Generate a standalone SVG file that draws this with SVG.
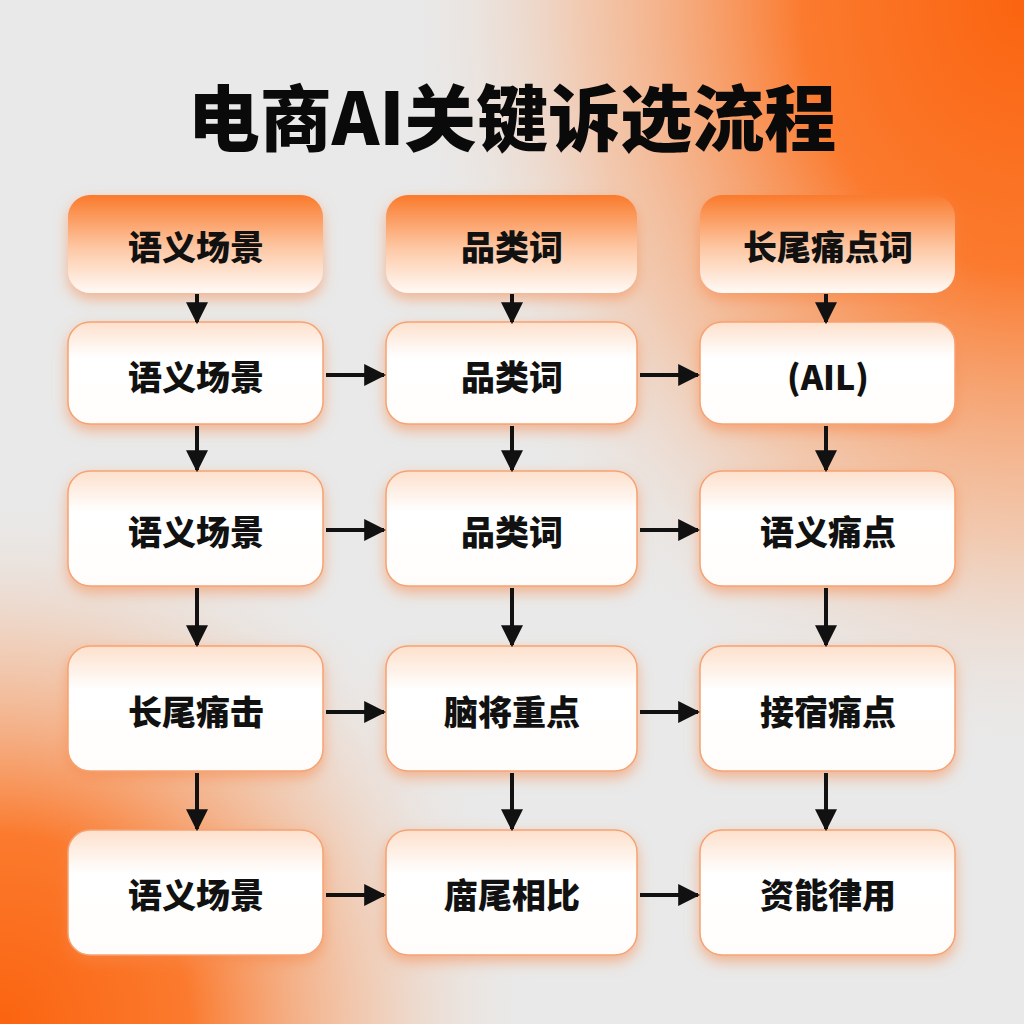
<svg xmlns="http://www.w3.org/2000/svg" width="1024" height="1024" viewBox="0 0 1024 1024">
<defs>
<radialGradient id="bgTR" cx="1024" cy="0" r="700" gradientUnits="userSpaceOnUse" gradientTransform="translate(1024 0) scale(0.9 1.1) translate(-1024 0)">
<stop offset="0" stop-color="#fb6410"/>
<stop offset="0.35" stop-color="#fb7a2e"/>
<stop offset="0.7" stop-color="#f7b48a" stop-opacity="0.6"/>
<stop offset="1" stop-color="#e9e9e9" stop-opacity="0"/>
</radialGradient>
<radialGradient id="bgBL" cx="0" cy="1024" r="540" gradientUnits="userSpaceOnUse">
<stop offset="0" stop-color="#fb6410"/>
<stop offset="0.35" stop-color="#fb7a2e"/>
<stop offset="0.7" stop-color="#f7b48a" stop-opacity="0.5"/>
<stop offset="1" stop-color="#e9e9e9" stop-opacity="0"/>
</radialGradient>
<linearGradient id="hdr" x1="0" y1="0" x2="0" y2="1">
<stop offset="0" stop-color="#fa7a2c"/>
<stop offset="0.55" stop-color="#fdc9a6"/>
<stop offset="1" stop-color="#fffaf6"/>
</linearGradient>
<linearGradient id="box" x1="0" y1="0" x2="0" y2="1">
<stop offset="0" stop-color="#fde0cc"/>
<stop offset="0.35" stop-color="#ffffff"/>
<stop offset="1" stop-color="#fffdfb"/>
</linearGradient>
<filter id="sh" x="-20%" y="-20%" width="140%" height="150%">
<feDropShadow dx="0" dy="6" stdDeviation="7" flood-color="#f7874a" flood-opacity="0.55"/>
</filter>
<marker id="ah" viewBox="0 0 10 10" refX="9" refY="5" markerWidth="5.5" markerHeight="5.5" orient="auto" markerUnits="strokeWidth">
<path d="M0,0 L10,5 L0,10 Z" fill="#111"/>
</marker>
<style>
.hd{fill:url(#hdr);filter:url(#sh);}
.bx{fill:url(#box);stroke:#f6a373;stroke-width:1.5;filter:url(#sh);}
.t{font-family:"Noto Sans CJK SC","Noto Sans",sans-serif;font-weight:900;font-size:34px;fill:#111;text-anchor:middle;dominant-baseline:central;}
.ttl{font-family:"Noto Sans CJK SC","Noto Sans",sans-serif;font-weight:900;font-size:72px;fill:#0a0a0a;text-anchor:middle;dominant-baseline:central;}
.c line{stroke:#111;stroke-width:4;marker-end:url(#ah);}
</style>
</defs>
<rect width="1024" height="1024" fill="#e9e9e9"/>
<rect width="1024" height="1024" fill="url(#bgTR)"/>
<rect width="1024" height="1024" fill="url(#bgBL)"/>
<text class="ttl" x="512" y="113">电商AI关键诉选流程</text>

<g id="h1"><rect class="hd" x="68" y="195" width="255" height="98" rx="22"/><text class="t" x="196" y="245">语义场景</text></g>
<g id="h2"><rect class="hd" x="386" y="195" width="251" height="98" rx="22"/><text class="t" x="512" y="245">品类词</text></g>
<g id="h3"><rect class="hd" x="700" y="195" width="255" height="98" rx="22"/><text class="t" x="828" y="245">长尾痛点词</text></g>

<g id="n11"><rect class="bx" x="68" y="322" width="255" height="102" rx="22"/><text class="t" x="196" y="375">语义场景</text></g>
<g id="n12"><rect class="bx" x="386" y="322" width="251" height="102" rx="22"/><text class="t" x="512" y="375">品类词</text></g>
<g id="n13"><rect class="bx" x="700" y="322" width="255" height="102" rx="22"/><text class="t" x="828" y="375">(AIL)</text></g>

<g id="n21"><rect class="bx" x="68" y="471" width="255" height="115" rx="22"/><text class="t" x="196" y="530">语义场景</text></g>
<g id="n22"><rect class="bx" x="386" y="471" width="251" height="115" rx="22"/><text class="t" x="512" y="530">品类词</text></g>
<g id="n23"><rect class="bx" x="700" y="471" width="255" height="115" rx="22"/><text class="t" x="828" y="530">语义痛点</text></g>

<g id="n31"><rect class="bx" x="68" y="646" width="255" height="125" rx="22"/><text class="t" x="196" y="710">长尾痛击</text></g>
<g id="n32"><rect class="bx" x="386" y="646" width="251" height="125" rx="22"/><text class="t" x="512" y="710">脑将重点</text></g>
<g id="n33"><rect class="bx" x="700" y="646" width="255" height="125" rx="22"/><text class="t" x="828" y="710">接宿痛点</text></g>

<g id="n41"><rect class="bx" x="68" y="830" width="255" height="125" rx="22"/><text class="t" x="196" y="893">语义场景</text></g>
<g id="n42"><rect class="bx" x="386" y="830" width="251" height="125" rx="22"/><text class="t" x="512" y="893">庿尾相比</text></g>
<g id="n43"><rect class="bx" x="700" y="830" width="255" height="125" rx="22"/><text class="t" x="828" y="893">资能律用</text></g>

<g id="connectors" class="c">
<line x1="197" y1="294" x2="197" y2="322"/>
<line x1="512" y1="294" x2="512" y2="322"/>
<line x1="826" y1="294" x2="826" y2="322"/>
<line x1="197" y1="426" x2="197" y2="470"/>
<line x1="512" y1="426" x2="512" y2="470"/>
<line x1="826" y1="426" x2="826" y2="470"/>
<line x1="197" y1="588" x2="197" y2="645"/>
<line x1="512" y1="588" x2="512" y2="645"/>
<line x1="826" y1="588" x2="826" y2="645"/>
<line x1="197" y1="773" x2="197" y2="829"/>
<line x1="512" y1="773" x2="512" y2="829"/>
<line x1="826" y1="773" x2="826" y2="829"/>
<line x1="326" y1="375" x2="384" y2="375"/>
<line x1="640" y1="375" x2="698" y2="375"/>
<line x1="326" y1="530" x2="384" y2="530"/>
<line x1="640" y1="530" x2="698" y2="530"/>
<line x1="326" y1="712" x2="384" y2="712"/>
<line x1="640" y1="712" x2="698" y2="712"/>
<line x1="326" y1="895" x2="384" y2="895"/>
<line x1="640" y1="895" x2="698" y2="895"/>
</g>
</svg>
